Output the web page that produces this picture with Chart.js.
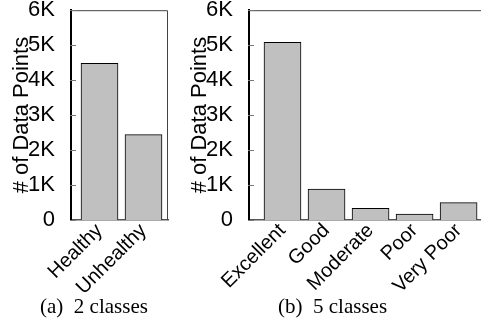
<!DOCTYPE html>
<html>
<head>
<meta charset="utf-8">
<script src="https://cdn.jsdelivr.net/npm/chart.js@4/dist/chart.umd.min.js"></script>
<style>
  body { margin: 0; width: 481px; height: 325px; overflow: hidden; background: #fff; position: relative; }
  canvas { position: absolute; }
  #chartA { left: 0; top: -11px; }
  #chartB { left: 172px; top: -11px; }
  .caption { position: absolute; top: 294px; font-family: "Liberation Serif", serif; font-size: 21px; color: #000; white-space: pre; }
</style>
</head>
<body>
<canvas id="chartA" width="172" height="311"></canvas>
<canvas id="chartB" width="315" height="311"></canvas>
<div class="caption" style="left:40px">(a)  2 classes</div>
<div class="caption" style="left:278px">(b)  5 classes</div>
<script>
// datos
let labelsA = ["Healthy", "Unhealthy"];
let valuesA = [4480, 2440];
let labelsB = ["Excellent", "Good", "Moderate", "Poor", "Very Poor"];
let valuesB = [5080, 885, 335, 170, 495];
let yTicks = [0, 1000, 2000, 3000, 4000, 5000, 6000];

Chart.defaults.font.family = "'Liberation Sans', Arial, sans-serif";
Chart.defaults.color = "#000";

// marco superior/derecho y ticks hacia adentro
const marco = {
    id: "marco",
    afterDatasetsDraw(chart) {
        let ctx = chart.ctx;
        let a = chart.chartArea;
        ctx.save();
        ctx.strokeStyle = "#444";
        ctx.lineWidth = 1;
        ctx.beginPath();
        ctx.moveTo(a.left, a.top + 0.5);
        ctx.lineTo(a.right - 0.5, a.top + 0.5);
        ctx.lineTo(a.right - 0.5, a.bottom);
        ctx.stroke();
        ctx.strokeStyle = "#777";
        for (let t of yTicks) {
            let y = Math.round(chart.scales.y.getPixelForValue(t)) + 0.5;
            ctx.beginPath();
            ctx.moveTo(a.left - 1, y);
            ctx.lineTo(a.left + 5, y);
            ctx.stroke();
        }
        ctx.restore();
    }
};

function graficar(id, labels, values, xmin, xmax, yWidth, titlePad, padRight) {
    let ctx = document.getElementById(id);
    return new Chart(ctx, {
        type: "bar",
        data: {
            datasets: [
                {
                    data: values.map((v, i) => ({ x: i, y: v })),
                    backgroundColor: "#c0c0c0",
                    borderColor: "#000",
                    borderWidth: 1,
                    barThickness: 37,
                },
            ],
        },
        options: {
            responsive: false,
            animation: false,
            layout: { padding: { top: 0, right: padRight, left: 0, bottom: 0 } },
            scales: {
                x: {
                    type: "linear",
                    offset: false,
                    min: xmin,
                    max: xmax,
                    grid: { display: false },
                    border: { display: true, color: "#555", width: 1.5 },
                    afterBuildTicks: (scale) => {
                        scale.ticks = labels.map((l, i) => ({ value: i }));
                    },
                    afterFit: (scale) => { scale.height = 80; },
                    ticks: {
                        autoSkip: false,
                        minRotation: 45,
                        maxRotation: 45,
                        padding: -9,
                        font: { size: 20 },
                        callback: (v) => labels[v],
                    },
                },
                y: {
                    min: 0,
                    max: 6000,
                    grid: { display: false },
                    border: { display: true, color: "#000", width: 2 },
                    afterFit: (scale) => { scale.width = yWidth; },
                    afterBuildTicks: (scale) => {
                        scale.ticks = yTicks.map((v) => ({ value: v }));
                    },
                    ticks: {
                        padding: 8,
                        font: { size: 22 },
                        callback: (v) => (v === 0 ? "0" : v / 1000 + "K"),
                    },
                    title: {
                        display: true,
                        text: "# of Data Points",
                        font: { size: 22 },
                        padding: { top: titlePad, bottom: 0 },
                    },
                },
            },
            plugins: {
                legend: { display: false },
                tooltip: { enabled: false },
            },
        },
        plugins: [marco],
    });
}

graficar("chartA", labelsA, valuesA, -0.648, 1.557, 71, 9, 4);
graficar("chartB", labelsB, valuesB, -0.761, 4.60, 77, 15, 2);
</script>
</body>
</html>
